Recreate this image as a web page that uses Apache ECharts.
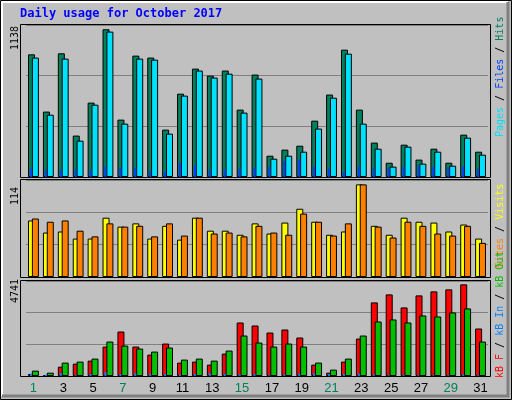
<!DOCTYPE html>
<html>
<head>
<meta charset="utf-8">
<script src="https://cdn.jsdelivr.net/npm/echarts@6/dist/echarts.min.js"></script>
<style>html,body{margin:0;padding:0;background:#c0c0c0}#chart{width:512px;height:400px}</style>
</head>
<body>
<div id="chart"></div>
<script>
// day numbers and weekend days (drawn green)
const days = ['1','2','3','4','5','6','7','8','9','10','11','12','13','14','15','16','17','18','19','20','21','22','23','24','25','26','27','28','29','30','31'];
const weekend = ['1','7','8','14','15','21','22','28','29'];

// top panel
const hits  = [945,504,953,319,573,1138,442,935,920,365,642,835,781,820,519,789,164,211,241,434,635,981,519,265,110,249,134,218,110,326,195];
const pages = [920,480,912,280,557,1120,411,912,904,334,627,820,766,796,496,758,141,164,195,373,611,950,411,218,80,234,103,195,87,303,172];
const files = [64,56,56,56,56,80,72,72,48,40,110,87,56,56,64,72,80,123,134,80,64,40,80,64,72,80,87,80,72,80,64];

// middle panel
const visits = [69.6,54.7,56,47.3,47.3,73,62,66,47.3,63,46,73,57,57,52,66,53.5,67,84,68,52,56,114,63,52,73,68,67,56,64.6,47.3];
const sites  = [72,68,69.6,57,50,66,62,63,50,66,51,73,53.5,54.7,50,63,54.7,52,78,68,51,66,114,62,48.6,68,63,53.5,51,63,42];

// bottom panel
const kbF   = [104,52,484,640,796,1522,2301,1522,1107,1678,692,744,588,1159,2768,2612,2249,2405,1990,588,173,744,1938,3806,4221,3547,4169,4377,4481,4741,2457];
const kbIn  = [120,60,150,40,100,200,100,150,120,100,80,100,150,120,80,100,40,80,120,150,100,120,130,80,40,60,40,40,40,80,40];
const kbOut = [277,173,692,744,900,1782,1574,1419,1263,1471,848,900,796,1315,2093,1730,1522,1678,1522,692,329,900,2093,2820,2924,2768,3131,3079,3287,3495,1782];

const chart = echarts.init(document.getElementById('chart'));

const grids = [
  {top: 25, height: 152, max: 1171},
  {top: 180, height: 97, max: 119.4},
  {top: 281, height: 95, max: 4914}
];
const mono = 'DejaVu Sans Mono';
const border = {borderColor: '#000', borderWidth: 1};

const xAxis = [], yAxis = [], series = [];
grids.forEach((g, i) => {
  xAxis.push({
    type: 'category', data: days, gridIndex: i,
    axisLine: {show: false}, axisTick: {show: false},
    axisLabel: i === 2 ? {
      show: true, margin: 6, fontFamily: 'Liberation Sans', fontSize: 13,
      color: v => weekend.includes(v) ? '#00805c' : '#000'
    } : {show: false}
  });
  xAxis.push({type: 'category', data: days, gridIndex: i, show: false});
  yAxis.push({
    type: 'value', gridIndex: i, min: 0, max: g.max, interval: g.max / 3,
    axisLabel: {show: false}, axisLine: {show: false}, axisTick: {show: false},
    splitLine: {lineStyle: {color: '#808080', width: 1}}
  });
});

function pair(gi, a, ca, b, cb, small, cs) {
  series.push({type: 'bar', xAxisIndex: gi * 2, yAxisIndex: gi, data: a, barWidth: 7, barGap: '-45%',
    itemStyle: Object.assign({color: ca}, border), z: 2});
  series.push({type: 'bar', xAxisIndex: gi * 2, yAxisIndex: gi, data: b, barWidth: 7, barGap: '-45%',
    itemStyle: Object.assign({color: cb}, border), z: 3});
  if (small) {
    series.push({type: 'bar', xAxisIndex: gi * 2 + 1, yAxisIndex: gi, data: small, barWidth: 2, barGap: '0%',
      itemStyle: {color: cs}, z: 4});
    series.push({type: 'bar', xAxisIndex: gi * 2 + 1, yAxisIndex: gi, data: days.map(() => 0), barWidth: 5, barGap: '0%',
      itemStyle: {color: 'transparent'}, silent: true});
  }
}
pair(0, hits, '#00805c', pages, '#00e0ff', files, '#0040ff');
pair(1, visits, '#ffff00', sites, '#ff8000');
pair(2, kbF, '#ff0000', kbOut, '#00c000', kbIn, '#0080ff');

function vtext(x, y, parts) {
  const rich = {};
  let text = '';
  parts.forEach((p, k) => { rich['s' + k] = {fill: p[1], fontFamily: mono, fontSize: 10}; text += '{s' + k + '|' + p[0] + '}'; });
  return {type: 'text', x: x, y: y, rotation: Math.PI / 2,
    style: {text: text, rich: rich, textAlign: 'left', textVerticalAlign: 'middle'}};
}

const frames = grids.map(g => ({type: 'rect', shape: {x: 20.5, y: g.top - 0.5, width: 470, height: g.height + 1},
  style: {fill: 'none', stroke: '#000', lineWidth: 1}, z: 10}));

chart.setOption({
  backgroundColor: '#c0c0c0',
  animation: false,
  grid: grids.map(g => ({left: 26, right: 24, top: g.top, height: g.height})),
  xAxis: xAxis,
  yAxis: yAxis,
  series: series,
  graphic: [
    {type: 'rect', shape: {x: 0.5, y: 0.5, width: 511, height: 399}, style: {fill: 'none', stroke: '#000', lineWidth: 1}},
    {type: 'polyline', shape: {points: [[2, 396], [2, 2], [508, 2]]}, style: {stroke: '#fff', lineWidth: 2, fill: 'none'}},
    {type: 'polyline', shape: {points: [[508, 2], [508, 396], [2, 396]]}, style: {stroke: '#808080', lineWidth: 3, fill: 'none'}},
    {type: 'text', x: 20, y: 8, style: {text: 'Daily usage for October 2017', fill: '#0000ff', fontFamily: mono, fontWeight: 'bold', fontSize: 12}},
    {type: 'text', x: 15, y: 50, rotation: Math.PI / 2, style: {text: '1138', fill: '#000', fontFamily: mono, fontSize: 10, textAlign: 'left', textVerticalAlign: 'middle'}},
    {type: 'text', x: 15, y: 205, rotation: Math.PI / 2, style: {text: '114', fill: '#000', fontFamily: mono, fontSize: 10, textAlign: 'left', textVerticalAlign: 'middle'}},
    {type: 'text', x: 15, y: 303, rotation: Math.PI / 2, style: {text: '4741', fill: '#000', fontFamily: mono, fontSize: 10, textAlign: 'left', textVerticalAlign: 'middle'}},
    vtext(500, 137, [['Pages', '#00e0ff'], [' / ', '#000'], ['Files', '#0040ff'], [' / ', '#000'], ['Hits', '#00805c']]),
    vtext(500, 268, [['Sites', '#ff8000'], [' / ', '#000'], ['Visits', '#ffff00']]),
    vtext(500, 378, [['kB F', '#ff0000'], [' / ', '#000'], ['kB In', '#0080ff'], [' / ', '#000'], ['kB Out', '#00c000']])
  ].concat(frames)
});
</script>
</body>
</html>
